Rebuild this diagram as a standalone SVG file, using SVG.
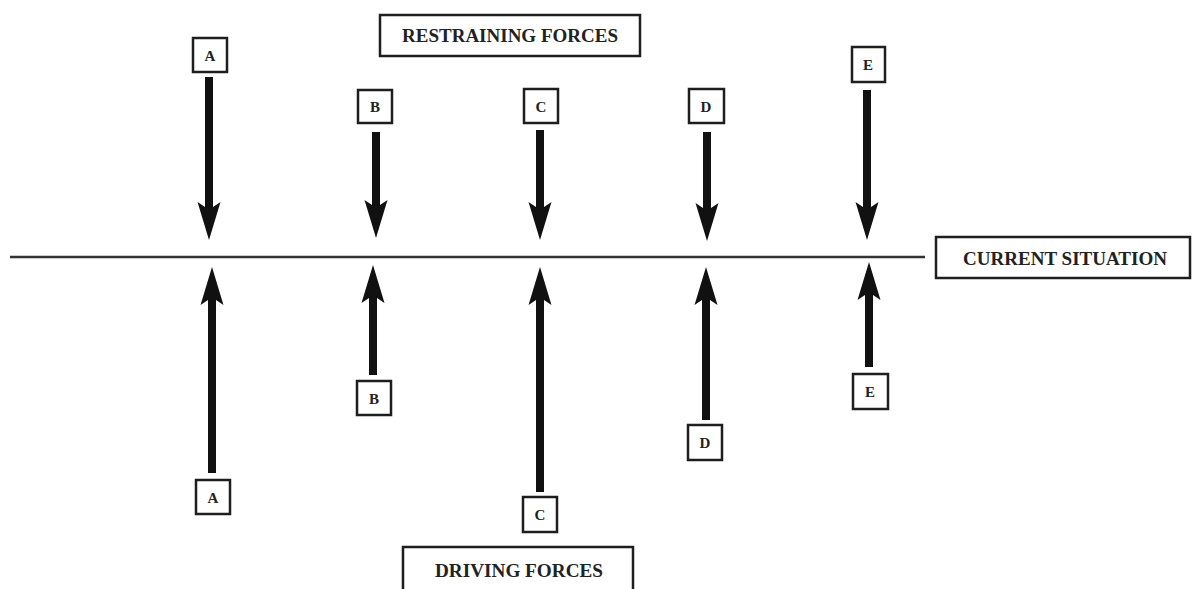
<svg xmlns="http://www.w3.org/2000/svg" xmlns:xlink="http://www.w3.org/1999/xlink" width="1196" height="589" viewBox="0 0 1196 589">
<style>
.box{fill:#fff;stroke:#1e1e1e;stroke-width:2.5}
.lbl{font-family:"Liberation Serif",serif;font-weight:bold;fill:#222;text-anchor:middle}
.big{font-size:18px}
.let{font-size:15px}
.shaft{stroke:#111;stroke-width:8;fill:none}
.head{fill:#111}
</style>
<defs>
<path id="hd" d="M0,0 L-11.5,-38 L-4,-33 L4,-33 L11.5,-38 Z"/>
</defs>
<rect width="1196" height="589" fill="#fff"/>
<g id="connectors">
<line x1="10" y1="257" x2="925" y2="257" stroke="#333" stroke-width="2.5"/>
<g id="arrow-A-down"><line class="shaft" x1="209" y1="77" x2="209" y2="212"/><use href="#hd" class="head" transform="translate(209,240)"/></g>
<g id="arrow-B-down"><line class="shaft" x1="376" y1="132" x2="376" y2="210"/><use href="#hd" class="head" transform="translate(376,238)"/></g>
<g id="arrow-C-down"><line class="shaft" x1="540" y1="130" x2="540" y2="212"/><use href="#hd" class="head" transform="translate(540,240)"/></g>
<g id="arrow-D-down"><line class="shaft" x1="707" y1="132" x2="707" y2="213"/><use href="#hd" class="head" transform="translate(707,241)"/></g>
<g id="arrow-E-down"><line class="shaft" x1="867" y1="90" x2="867" y2="212"/><use href="#hd" class="head" transform="translate(867,240)"/></g>
<g id="arrow-A-up"><line class="shaft" x1="212" y1="473" x2="212" y2="295"/><use href="#hd" class="head" transform="translate(212,267) scale(1,-1)"/></g>
<g id="arrow-B-up"><line class="shaft" x1="373" y1="375" x2="373" y2="293"/><use href="#hd" class="head" transform="translate(373,265) scale(1,-1)"/></g>
<g id="arrow-C-up"><line class="shaft" x1="540" y1="492" x2="540" y2="295"/><use href="#hd" class="head" transform="translate(540,267) scale(1,-1)"/></g>
<g id="arrow-D-up"><line class="shaft" x1="706" y1="420" x2="706" y2="295"/><use href="#hd" class="head" transform="translate(706,267) scale(1,-1)"/></g>
<g id="arrow-E-up"><line class="shaft" x1="869" y1="367" x2="869" y2="290"/><use href="#hd" class="head" transform="translate(869,262) scale(1,-1)"/></g>
</g>
<g id="restraining"><rect class="box" x="380" y="15" width="260" height="41"/><text class="lbl big" x="510" y="42" textLength="216" lengthAdjust="spacingAndGlyphs">RESTRAINING FORCES</text></g>
<g id="current"><rect class="box" x="936" y="237" width="254" height="41"/><text class="lbl big" x="1065" y="265" textLength="204" lengthAdjust="spacingAndGlyphs">CURRENT SITUATION</text></g>
<g id="driving"><rect class="box" x="403" y="547" width="230" height="50"/><text class="lbl big" x="519" y="577" textLength="168" lengthAdjust="spacingAndGlyphs">DRIVING FORCES</text></g>
<g id="A-top"><rect class="box" x="193" y="38" width="34" height="34"/><text class="lbl let" x="210" y="61">A</text></g>
<g id="B-top"><rect class="box" x="358" y="90" width="34" height="33"/><text class="lbl let" x="375" y="112">B</text></g>
<g id="C-top"><rect class="box" x="524" y="89" width="34" height="34"/><text class="lbl let" x="541" y="112">C</text></g>
<g id="D-top"><rect class="box" x="689" y="89" width="35" height="34"/><text class="lbl let" x="706" y="112">D</text></g>
<g id="E-top"><rect class="box" x="852" y="47" width="33" height="35"/><text class="lbl let" x="868" y="70">E</text></g>
<g id="A-bot"><rect class="box" x="196" y="480" width="34" height="34"/><text class="lbl let" x="213" y="503">A</text></g>
<g id="B-bot"><rect class="box" x="357" y="381" width="34" height="34"/><text class="lbl let" x="374" y="404">B</text></g>
<g id="C-bot"><rect class="box" x="523" y="497" width="34" height="35"/><text class="lbl let" x="540" y="520">C</text></g>
<g id="D-bot"><rect class="box" x="688" y="425" width="34" height="35"/><text class="lbl let" x="705" y="448">D</text></g>
<g id="E-bot"><rect class="box" x="853" y="374" width="35" height="35"/><text class="lbl let" x="870" y="397">E</text></g>
</svg>
